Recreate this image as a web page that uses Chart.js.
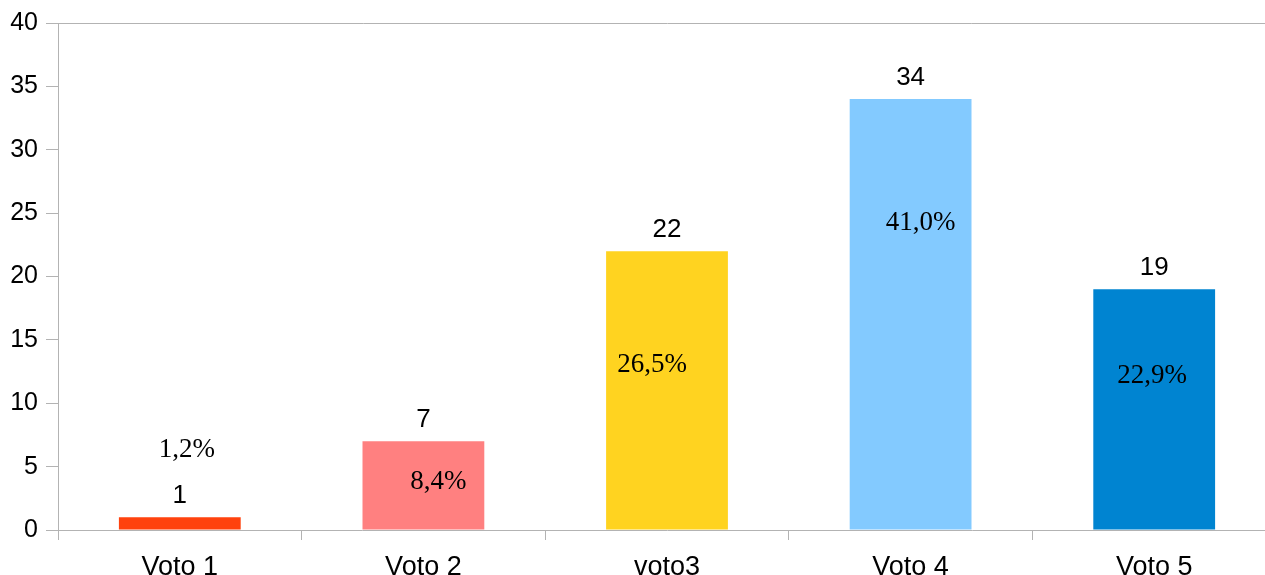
<!DOCTYPE html>
<html>
<head>
<meta charset="utf-8">
<script src="https://cdn.jsdelivr.net/npm/chart.js@4.4.1/dist/chart.umd.min.js"></script>
<style>
  html, body { margin: 0; padding: 0; background: #fff; overflow: hidden; }
  #wrap { width: 1280px; height: 575px; }
</style>
</head>
<body>
<div id="wrap"><canvas id="chart"></canvas></div>
<script>
"use strict";

const categories = ["Voto 1", "Voto 2", "voto3", "Voto 4", "Voto 5"];
const votes = [1, 7, 22, 34, 19];
const barColors = ["#ff420e", "#ff8080", "#ffd320", "#83caff", "#0084d1"];
const yTicks = [0, 5, 10, 15, 20, 25, 30, 35, 40];

// where the percent labels sit: y in axis units, x shift in px from bar centre
const pctPlace = [
  { y: 6.3, dx: 7 },
  { y: 3.8, dx: 15 },
  { y: 13.0, dx: -15 },
  { y: 24.2, dx: 10 },
  { y: 12.15, dx: -2 }
];

const total = votes.reduce((a, b) => a + b, 0);
const percents = votes.map(v => (v / total * 100).toFixed(1).replace(".", ",") + "%");

const axisColor = "#b3b3b3";
const sans = "'Liberation Sans', Arial, sans-serif";

const labelPlugin = {
  id: "barLabels",
  afterDatasetsDraw(chart) {
    const ctx = chart.ctx;
    const meta = chart.getDatasetMeta(0);
    const yScale = chart.scales.y;
    ctx.save();
    ctx.fillStyle = "#000";
    ctx.textAlign = "center";
    ctx.textBaseline = "middle";
    meta.data.forEach((bar, i) => {
      ctx.font = "26px " + sans;
      ctx.fillText(String(votes[i]), bar.x, bar.y - 21);
      ctx.font = "27px 'Liberation Serif', 'Times New Roman', serif";
      ctx.fillText(percents[i], bar.x + pctPlace[i].dx, yScale.getPixelForValue(pctPlace[i].y));
    });
    ctx.restore();
  }
};

const data = {
  labels: categories,
  datasets: [
    {
      data: votes,
      backgroundColor: barColors,
      borderWidth: 0,
      barPercentage: 0.5,
      categoryPercentage: 1
    }
  ]
};

const config = {
  type: "bar",
  data: data,
  plugins: [labelPlugin],
  options: {
    responsive: false,
    animation: false,
    layout: { padding: { top: 23, right: 4, left: 0, bottom: 0 } },
    plugins: {
      legend: { display: false },
      tooltip: { enabled: false }
    },
    scales: {
      x: {
        afterFit(scale) { scale.height = 45; },
        border: { color: axisColor, width: 1 },
        grid: {
          offset: true,
          color: "rgba(0,0,0,0)",
          tickColor: axisColor,
          tickLength: 10,
          drawTicks: true
        },
        ticks: {
          color: "#000",
          padding: 11,
          font: { family: sans, size: 27 }
        }
      },
      y: {
        min: 0,
        max: 40,
        afterFit(scale) { scale.width = 58; },
        afterBuildTicks(scale) { scale.ticks = yTicks.map(v => ({ value: v })); },
        border: { color: axisColor, width: 1 },
        grid: {
          color: ctx => (ctx.tick && ctx.tick.value === 40 ? axisColor : "rgba(0,0,0,0)"),
          tickColor: axisColor,
          tickLength: 12,
          drawTicks: true
        },
        ticks: {
          color: "#000",
          padding: 8,
          font: { family: sans, size: 25 }
        }
      }
    }
  }
};

const canvas = document.getElementById("chart");
canvas.width = 1280;
canvas.height = 575;
const myChart = new Chart(canvas, config);
</script>
</body>
</html>
